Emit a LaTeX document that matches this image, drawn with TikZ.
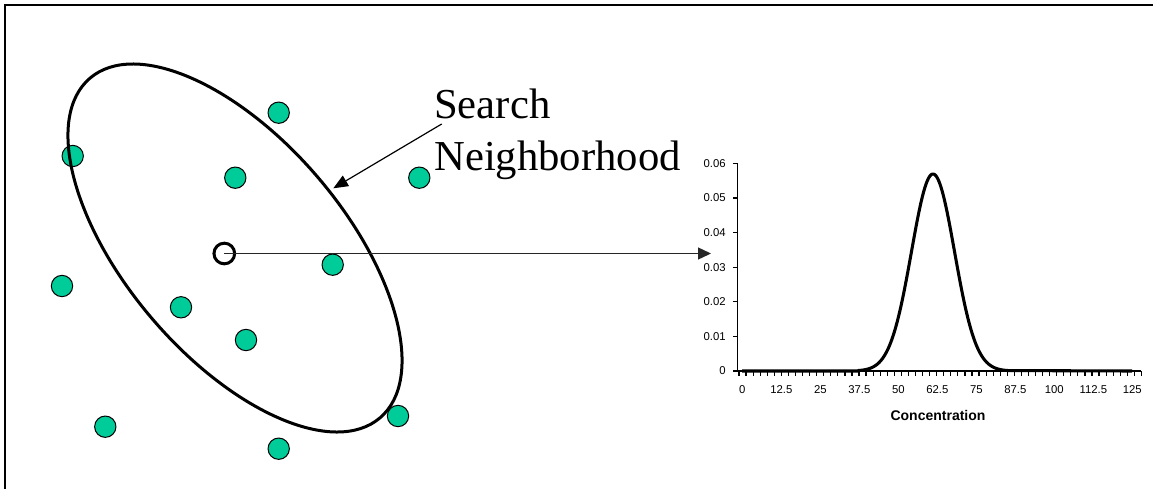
\documentclass[tikz,border=0pt]{standalone}
\usepackage{fontspec}
\setmainfont{Liberation Serif}
\newfontfamily\chartfont{Liberation Sans}
\usetikzlibrary{arrows.meta}
\definecolor{dotgreen}{RGB}{0,204,153}
\begin{document}
\begin{tikzpicture}[x=0.75pt,y=-0.75pt,
  sample/.style={circle,draw=black,line width=0.75pt,fill=dotgreen,minimum size=16pt,inner sep=0pt},
  target/.style={circle,draw=black,line width=2.25pt,minimum size=15.5pt,inner sep=0pt},
  ylab/.style={anchor=east,font=\chartfont\fontsize{8.5pt}{9pt}\selectfont,inner sep=0pt},
  xlab/.style={anchor=center,font=\chartfont\fontsize{8.5pt}{9pt}\selectfont,inner sep=0pt},
  biglab/.style={anchor=base west,font=\fontsize{32pt}{38pt}\selectfont,inner sep=0pt},
  tip/.style={-{Triangle[length=9.75pt,width=9pt]}},
  searchtip/.style={-{Triangle[length=11pt,width=9pt]}}]
\useasboundingbox (0,0) rectangle (1153,489);
% frame
\draw[line width=1.6pt] (5,489) -- (5,5) -- (1153,5);
% sample points
\node[sample] (p1) at (278.7,112.7) {};
\node[sample] (p2) at (72.7,156) {};
\node[sample] (p3) at (235.3,177.7) {};
\node[sample] (p4) at (419.3,177.7) {};
\node[sample] (p5) at (332.7,264.7) {};
\node[sample] (p6) at (62,286) {};
\node[sample] (p7) at (181,307.3) {};
\node[sample] (p8) at (246,340) {};
\node[sample] (p9) at (105.3,426.7) {};
\node[sample] (p10) at (278.7,448.7) {};
\node[sample] (p11) at (398,416) {};
% search ellipse
\draw[line width=2.25pt,shift={(235,248)},rotate=-49.5] (0,0) ellipse [x radius=167.5pt, y radius=81.7pt];
% target location
\node[target] (hc) at (224.3,253.5) {};
\coordinate (ctip) at (711,253.5);
\draw[line width=1pt,black!85,tip] (hc.center) -- (ctip);
% label
\node[biglab] (s1) at (434,118.3) {Search};
\node[biglab] (s2) at (434,170) {Neighborhood};
\coordinate (sa) at (441.7,124);
\coordinate (sb) at (333.3,188.3);
\draw[line width=0.9pt,searchtip] (sa) -- (sb);
% chart axes
\coordinate (yo) at (737.5,371);
\draw[line width=0.9pt] (737.5,163.3) -- (yo) -- (1141,371);
\foreach \v [count=\i from 0] in {0,0.01,0.02,0.03,0.04,0.05,0.06}{
  \draw[line width=0.9pt] (733,371-34.62*\i) -- (737.5,371-34.62*\i);
  \node[ylab] (yl\i) at (726,371-34.62*\i) {\v};
}
\foreach \k in {0,...,57}{
  \draw[line width=0.9pt] (739+7.06*\k,371) -- (739+7.06*\k,376);
}
\foreach \v [count=\i from 0] in {0,12.5,25,37.5,50,62.5,75,87.5,100,112.5,125}{
  \node[xlab] (xl\i) at (742.3+39*\i,390) {\v};
}
\node[anchor=center,font=\chartfont\bfseries\fontsize{10.5pt}{12pt}\selectfont,inner sep=0pt] (xt) at (938,415) {Concentration};
% density curve
\draw[line width=2.3pt,line join=round] (742,371) -- (858,371)
  -- plot[domain=858:1008,samples=120,smooth] (\x,{371-197*exp(-0.5*((\x-933)/21.5)^2)})
  -- (1132,371);
\end{tikzpicture}
\end{document}
